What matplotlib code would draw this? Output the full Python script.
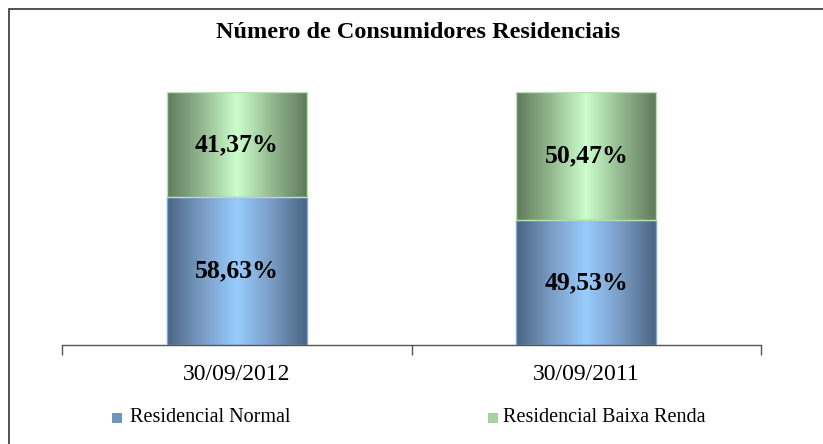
import numpy as np
import matplotlib
matplotlib.use("Agg")
import matplotlib.pyplot as plt
from matplotlib.patches import Rectangle
from matplotlib.colors import LinearSegmentedColormap

categories = ["30/09/2012", "30/09/2011"]
normal = [58.63, 49.53]
baixa = [41.37, 50.47]
normal_labels = ["58,63%", "49,53%"]
baixa_labels = ["41,37%", "50,47%"]
series_names = ["Residencial Normal", "Residencial Baixa Renda"]
title = "Número de Consumidores Residenciais"

W, H = 823, 444
fig = plt.figure(figsize=(W / 100, H / 100), dpi=100)
fig.patch.set_facecolor("white")
serif = ["Liberation Serif", "DejaVu Serif"]

# outer frame (extends past right/bottom edge)
fig.patches.append(Rectangle((9 / W, -0.05), 1.0, 1 - 9 / H + 0.05, transform=fig.transFigure,
                             fill=False, edgecolor="#333333", linewidth=1.2))

ax = fig.add_axes([62 / W, 99 / H, (761 - 62) / W, (352 - 99) / H])

blue_cmap = LinearSegmentedColormap.from_list("b", ["#4a6482", "#7a9cc4", "#99ccff", "#7a9cc4", "#4a6482"])
green_cmap = LinearSegmentedColormap.from_list("g", ["#5f7a5c", "#94b890", "#ccffcc", "#94b890", "#5f7a5c"])
grad = np.linspace(0, 1, 256).reshape(1, -1)

x = np.arange(len(categories))
width = 0.40
b1 = ax.bar(x, normal, width, color="none", edgecolor="#7ea6d8", linewidth=1.0, zorder=3)
b2 = ax.bar(x, baixa, width, bottom=normal, color="none", edgecolor="#b4e2b0", linewidth=1.0, zorder=3)

for bars, cmap in ((b1, blue_cmap), (b2, green_cmap)):
    for r in bars:
        x0, y0 = r.get_x(), r.get_y()
        ax.imshow(grad, cmap=cmap, aspect="auto",
                  extent=(x0, x0 + r.get_width(), y0, y0 + r.get_height()),
                  zorder=2, interpolation="bicubic")
ax.set_xlim(-0.5, 1.5)
ax.set_ylim(0, 100)

for i in range(len(categories)):
    ax.text(x[i], normal[i] / 2, normal_labels[i], ha="center", va="center",
            fontsize=18.5, fontweight="bold", family=serif, zorder=4)
    ax.text(x[i], normal[i] + baixa[i] / 2, baixa_labels[i], ha="center", va="center",
            fontsize=18.5, fontweight="bold", family=serif, zorder=4)

for s in ("top", "right", "left"):
    ax.spines[s].set_visible(False)
ax.spines["bottom"].set_color("#555555")
ax.spines["bottom"].set_linewidth(1.0)
ax.set_yticks([])
ax.set_xticks([-0.5, 0.5, 1.5])
ax.set_xticklabels([])
ax.tick_params(axis="x", length=7, width=1.0, color="#555555", direction="out")
for i, c in enumerate(categories):
    ax.text(x[i], -11.5, c, ha="center", va="center", fontsize=17, family=serif)

fig.text(418 / W, 1 - 32 / H, title, ha="center", va="center", fontsize=17.5,
         fontweight="bold", family=serif)

# legend
leg_y = 1 - 417 / H
fig.patches.append(Rectangle((112 / W, 1 - 422 / H), 9 / W, 9 / H, transform=fig.transFigure,
                             facecolor="#6e94c2", edgecolor="#5a7ea8", linewidth=0.5))
fig.text(130 / W, leg_y, series_names[0], ha="left", va="center", fontsize=14.5, family=serif)
fig.patches.append(Rectangle((488 / W, 1 - 422 / H), 9 / W, 9 / H, transform=fig.transFigure,
                             facecolor="#a8d4a4", edgecolor="#8fbf8a", linewidth=0.5))
fig.text(503 / W, leg_y, series_names[1], ha="left", va="center", fontsize=14.5, family=serif)

fig.savefig("out.png", dpi=100)
